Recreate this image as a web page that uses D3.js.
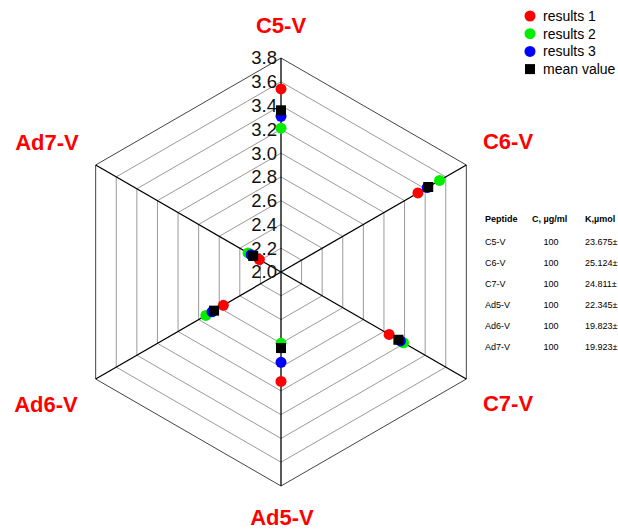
<!DOCTYPE html>
<html>
<head>
<meta charset="utf-8">
<script src="https://cdn.jsdelivr.net/npm/d3@7"></script>
<style>
  html, body { margin: 0; padding: 0; background: #fff; }
  svg { display: block; font-family: "Liberation Sans", Arial, sans-serif; }
</style>
</head>
<body>
<svg id="chart" width="618" height="530"></svg>
<script>
// Peptide axes (clockwise from top)
const peptides = ['C5-V', 'C6-V', 'C7-V', 'Ad5-V', 'Ad6-V', 'Ad7-V'];

// Series values
const results1 = [3.54, 3.33, 3.05, 2.92, 2.56, 2.21];
const results2 = [3.21, 3.54, 3.19, 2.60, 2.73, 2.32];
const results3 = [3.31, 3.42, 3.16, 2.76, 2.67, 2.29];
const meanValue = [3.36, 3.43, 3.14, 2.64, 2.65, 2.27];

const tickValues = [2.0, 2.2, 2.4, 2.6, 2.8, 3.0, 3.2, 3.4, 3.6, 3.8];

// Side table (the last column runs to the right edge, as in the original)
const tableHeader = ['Peptide', 'C, µg/ml', 'K,µmol'];
const tableConc = [100, 100, 100, 100, 100, 100];
const tableK = ['23.675±', '25.124±', '24.811±', '22.345±', '19.823±', '19.923±'];

const series = [
  { name: 'results 1', values: results1, color: '#ff0000', shape: 'circle' },
  { name: 'results 2', values: results2, color: '#00ee00', shape: 'circle' },
  { name: 'results 3', values: results3, color: '#0000ff', shape: 'circle' },
  { name: 'mean value', values: meanValue, color: '#000000', shape: 'square' }
];

const svg = d3.select('#chart');
const cx = 281, cy = 272, R = 214;

const r = d3.scaleLinear().domain([2.0, 3.8]).range([0, R]);
const angle = d3.scalePoint().domain(peptides).range([-90, 210]);

function pt(name, v) {
  const a = angle(name) * Math.PI / 180;
  return [cx + r(v) * Math.cos(a), cy + r(v) * Math.sin(a)];
}

// Grid hexagons
const grid = svg.append('g');
tickValues.slice(1).forEach((t, i, arr) => {
  grid.append('polygon')
    .attr('points', peptides.map(p => pt(p, t).join(',')).join(' '))
    .attr('fill', 'none')
    .attr('stroke', i === arr.length - 1 ? '#444' : '#9a9a9a')
    .attr('stroke-width', 1);
});

// Spokes
peptides.forEach(p => {
  const [x, y] = pt(p, 3.8);
  grid.append('line')
    .attr('x1', cx).attr('y1', cy).attr('x2', x).attr('y2', y)
    .attr('stroke', '#000').attr('stroke-width', 1.3);
});

// Tick labels along the top spoke
svg.append('g').selectAll('text')
  .data(tickValues)
  .enter()
  .append('text')
  .attr('x', cx - 4)
  .attr('y', d => cy - r(d))
  .attr('dy', '0.35em')
  .attr('text-anchor', 'end')
  .attr('font-size', 18.5)
  .attr('fill', '#111')
  .text(d => d.toFixed(1));

// Axis labels
const labelPos = {
  'C5-V': [281, 33],
  'C6-V': [508, 149],
  'C7-V': [508, 411],
  'Ad5-V': [282, 525],
  'Ad6-V': [46, 412],
  'Ad7-V': [47, 150]
};
svg.append('g').selectAll('text')
  .data(peptides)
  .enter()
  .append('text')
  .attr('x', d => labelPos[d][0])
  .attr('y', d => labelPos[d][1])
  .attr('text-anchor', 'middle')
  .attr('font-size', 22)
  .attr('font-weight', 'bold')
  .attr('fill', '#ff0000')
  .text(d => d);

// Markers
series.forEach(s => {
  const g = svg.append('g');
  s.values.forEach((v, i) => {
    const [x, y] = pt(peptides[i], v);
    if (s.shape === 'circle') {
      g.append('circle').attr('cx', x).attr('cy', y).attr('r', 5.5).attr('fill', s.color);
    } else {
      g.append('rect').attr('x', x - 5).attr('y', y - 5).attr('width', 10).attr('height', 10).attr('fill', s.color);
    }
  });
});

// Legend
const legend = svg.append('g').attr('transform', 'translate(530, 16)');
series.forEach((s, i) => {
  const y = i * 17.7;
  if (s.shape === 'circle') {
    legend.append('circle').attr('cx', 0).attr('cy', y).attr('r', 5.5).attr('fill', s.color);
  } else {
    legend.append('rect').attr('x', -5).attr('y', y - 5).attr('width', 10).attr('height', 10).attr('fill', s.color);
  }
  legend.append('text')
    .attr('x', 13).attr('y', y).attr('dy', '0.35em')
    .attr('font-size', 14).attr('fill', '#000')
    .text(s.name);
});

// Table
const table = svg.append('g').attr('font-size', 9).attr('fill', '#000');
const headerX = [485, 532, 585];
const headerY = 222;
tableHeader.forEach((h, i) => {
  table.append('text').attr('x', headerX[i]).attr('y', headerY).attr('font-weight', 'bold').text(h);
});
peptides.forEach((p, i) => {
  const y = 245 + i * 21;
  table.append('text').attr('x', 485).attr('y', y).text(p);
  table.append('text').attr('x', 551).attr('y', y).attr('text-anchor', 'middle').text(tableConc[i]);
  table.append('text').attr('x', 585).attr('y', y).text(tableK[i]);
});
</script>
</body>
</html>
